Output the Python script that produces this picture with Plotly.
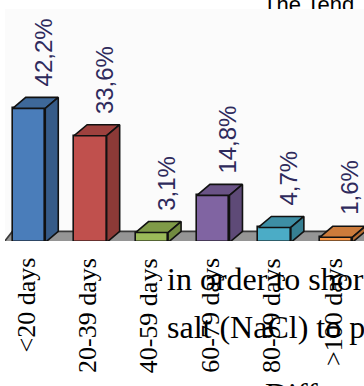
import plotly.graph_objects as go

# Share of cases by duration class
categories = ["<20 days", "20-39 days", "40-59 days", "60-79 days", "80-99 days", ">100 days"]
shares = [42.2, 33.6, 3.1, 14.8, 4.7, 1.6]
front_colors = ["#4a7dba", "#c0504d", "#9bbb59", "#8064a2", "#4bacc6", "#f79646"]
top_colors = ["#3e6899", "#9e413e", "#7f9b48", "#6a5386", "#3d8ea4", "#cc7b3b"]
side_colors = ["#365b88", "#8c3a37", "#718a40", "#5e4a77", "#367f92", "#b56d34"]

W, H = 364, 386
ML, MB = 5, 145
PW, PH = W - ML, H - MB          # paper area in pixels
PLOT_TOP = 9                      # chart wall starts here

# pixel geometry of the 3-D look
SLOT = 61.4                       # px per category
X0 = 29.0                         # px centre of first bar
Y_ZERO = 242.4                    # px of the value 0
PX_PER_UNIT = 3.175
BAR_W = 0.53
DX = 13 / SLOT                    # depth offset in category units
DY = 11 / PX_PER_UNIT             # depth offset in value units

x_lo = (ML - X0) / SLOT
x_hi = (W - X0) / SLOT
y_lo = (Y_ZERO - (PH)) / PX_PER_UNIT
y_hi = (Y_ZERO - PLOT_TOP) / PX_PER_UNIT

SERIF = "Liberation Serif, Times New Roman, serif"
SANS = "Liberation Sans, Arial, sans-serif"


def px_to_paper_x(px):
    return (px - ML) / PW


def px_to_paper_y(py):
    return (PH - py) / PH


idx = list(range(len(categories)))
fig = go.Figure()

# front faces
fig.add_trace(go.Bar(
    x=idx, y=shares, width=BAR_W,
    marker=dict(color=front_colors, line=dict(color="#111111", width=1.6)),
    hoverinfo="skip", showlegend=False,
))

# top and side faces
for i, v in enumerate(shares):
    l, r = i - BAR_W / 2, i + BAR_W / 2
    fig.add_trace(go.Scatter(
        x=[l, r, r + DX, l + DX, l], y=[v, v, v + DY, v + DY, v],
        mode="lines", fill="toself", fillcolor=top_colors[i],
        line=dict(color="#111111", width=1.6), hoverinfo="skip", showlegend=False,
    ))
    fig.add_trace(go.Scatter(
        x=[r, r + DX, r + DX, r, r], y=[0, DY, v + DY, v, 0],
        mode="lines", fill="toself", fillcolor=side_colors[i],
        line=dict(color="#111111", width=1.6), hoverinfo="skip", showlegend=False,
    ))

# value labels
for i, v in enumerate(shares):
    fig.add_annotation(
        x=i, y=v, xref="x", yref="y", xshift=14, yshift=20,
        text=f"{v:.1f}".replace(".", ",") + "%",
        textangle=-90, showarrow=False, xanchor="center", yanchor="bottom",
        font=dict(family=SANS, size=24, color="#2e2a5c"),
    )

# category labels under the floor
for i, c in enumerate(categories):
    fig.add_annotation(
        x=i, y=px_to_paper_y(256), xref="x", yref="paper", xshift=-3,
        text=c, textangle=-90, showarrow=False, xanchor="center", yanchor="top",
        font=dict(family=SERIF, size=26, color="#000000"),
    )

# heading line partly hidden behind the chart
fig.add_trace(go.Scatter(
    x=[258], y=[-8], xaxis="x2", yaxis="y2", mode="text",
    text=["The Tend"], textposition="top right",
    textfont=dict(family=SANS, size=22, color="#000000"),
    cliponaxis=True, hoverinfo="skip", showlegend=False,
))

# surrounding body text
body = [("in order to shor", 165, 259), ("salt (NaCl) to p", 165, 307), ("Diff", 263, 374)]
for txt, px, py in body:
    fig.add_annotation(
        x=px_to_paper_x(px), y=px_to_paper_y(py), xref="paper", yref="paper",
        text=txt, showarrow=False, xanchor="left", yanchor="top",
        font=dict(family=SERIF, size=32, color="#000000"),
    )

main_dom = [0, (PH - PLOT_TOP) / PH]

fig.update_layout(
    width=W, height=H,
    margin=dict(l=ML, r=0, t=0, b=MB),
    paper_bgcolor="#ffffff", plot_bgcolor="#ffffff",
    bargap=0,
    xaxis=dict(range=[x_lo, x_hi], visible=False, fixedrange=True),
    yaxis=dict(range=[y_lo, y_hi], domain=main_dom, visible=False, fixedrange=True),
    xaxis2=dict(range=[0, PW], anchor="y2", visible=False, fixedrange=True),
    yaxis2=dict(range=[0, PLOT_TOP], domain=[main_dom[1], 1], anchor="x2",
                visible=False, fixedrange=True),
    shapes=[
        # chart wall
        dict(type="rect", xref="x domain", yref="y domain", x0=0, x1=1, y0=0, y1=1,
             fillcolor="#fbfbfb", line=dict(width=0), layer="below"),
        # floor
        dict(type="path", xref="x", yref="y", layer="below",
             path=f"M {x_lo - 0.02},0 L {x_lo + 0.12},{DY} L {x_hi + 1},{DY} L {x_hi + 1},0 Z",
             fillcolor="#959595", line=dict(color="#3a3a3a", width=1.6)),
    ],
    showlegend=False,
)

fig.write_html("out.html")
